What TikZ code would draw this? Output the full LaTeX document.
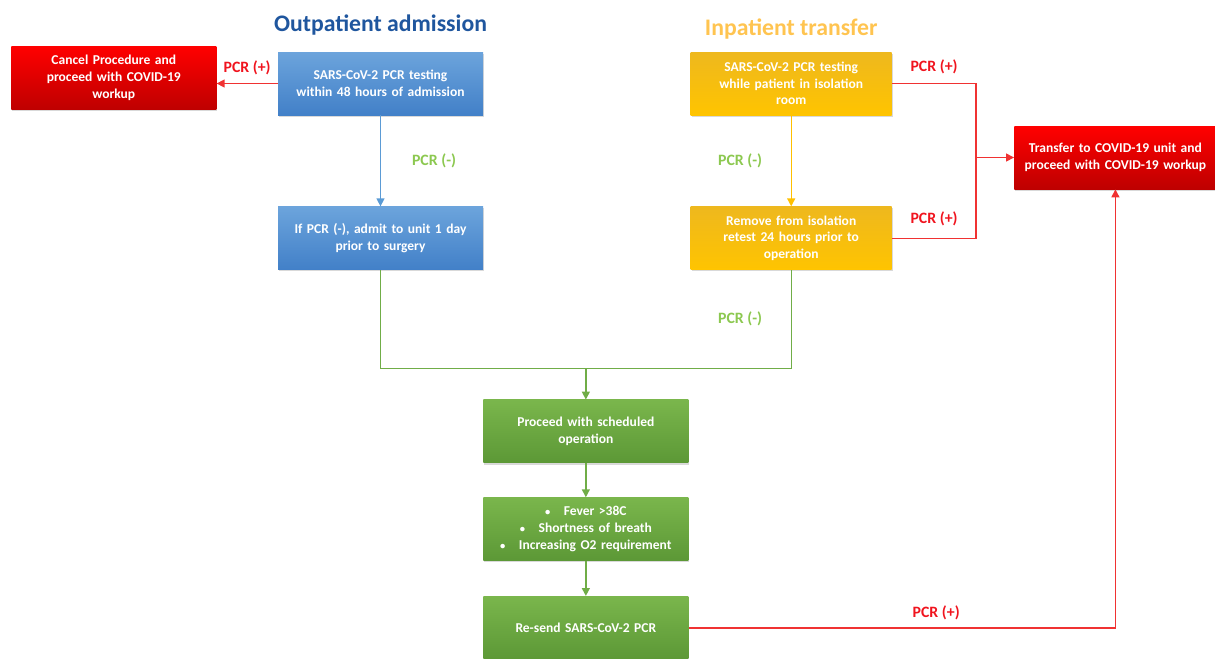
\documentclass[tikz,border=0pt]{standalone}
\usepackage{fontspec}
\setmainfont{Carlito}
\usetikzlibrary{arrows.meta, positioning, calc, shadows}
\definecolor{titleblue}{RGB}{31,86,158}
\definecolor{titleyellow}{RGB}{255,196,80}
\definecolor{lblred}{RGB}{240,20,30}
\definecolor{lblgreen}{RGB}{140,200,80}
\definecolor{lnblue}{RGB}{91,155,213}
\definecolor{lnyellow}{RGB}{255,192,0}
\definecolor{lngreen}{RGB}{112,173,71}
\definecolor{lnred}{RGB}{240,50,50}
\definecolor{bluetop}{RGB}{108,164,220}
\definecolor{bluebot}{RGB}{66,128,200}
\definecolor{yellowtop}{RGB}{238,184,30}
\definecolor{yellowbot}{RGB}{255,196,0}
\definecolor{greentop}{RGB}{122,182,76}
\definecolor{greenbot}{RGB}{92,152,54}
\definecolor{redtop}{RGB}{255,0,0}
\definecolor{redbot}{RGB}{190,0,0}
\tikzset{
  box/.style={rectangle, minimum width=4.1cm, minimum height=1.26cm,
    text width=3.8cm, align=center, text=white, inner sep=1pt,
    font=\fontsize{7.7}{9.5}\selectfont\bfseries,
    drop shadow={opacity=0.3, shadow xshift=0.6pt, shadow yshift=-1pt}},
  bluebox/.style={box, top color=bluetop, bottom color=bluebot},
  yellowbox/.style={box, minimum width=4.02cm, top color=yellowtop, bottom color=yellowbot},
  greenbox/.style={box, top color=greentop, bottom color=greenbot},
  redbox/.style={box, top color=redtop, bottom color=redbot},
  arrow/.style={-{Triangle[length=4.5pt, width=4.5pt]}, line width=0.8pt},
  line/.style={line width=0.8pt},
  lbl/.style={font=\fontsize{9}{10}\selectfont\bfseries},
  title/.style={font=\fontsize{13.5}{16}\selectfont\bfseries}
}
\newcommand{\bul}{{\fontsize{6}{6}\selectfont\textbullet}\ \ \ }
\begin{document}
\begin{tikzpicture}
  \useasboundingbox (0,0) rectangle (24.3,-13.16);

  % Outpatient column
  \node[bluebox] (outTest) at (7.61,-1.67)
    {SARS-CoV-2 PCR testing\\within 48 hours of admission};
  \node[bluebox, below=1.82cm of outTest] (outAdmit)
    {If PCR (-), admit to unit 1 day\\prior to surgery};
  \node[redbox, left=1.22cm of outTest, yshift=0.11cm] (cancel)
    {Cancel Procedure and\\proceed with COVID-19\\workup};
  \node[title, text=titleblue, above=0.2cm of outTest] (outTitle) {Outpatient admission};

  % Inpatient column
  \node[yellowbox, right=4.14cm of outTest] (inTest)
    {SARS-CoV-2 PCR testing\\while patient in isolation\\room};
  \node[yellowbox, below=1.82cm of inTest] (inRetest)
    {Remove from isolation\\retest 24 hours prior to\\operation};
  \node[title, text=titleyellow, above=0.12cm of inTest] (inTitle) {Inpatient transfer};

  % COVID-19 unit
  \node[redbox, minimum width=4.04cm, right=2.44cm of inTest, yshift=-1.48cm] (transfer)
    {Transfer to COVID-19 unit and\\proceed with COVID-19 workup};

  % Operation column
  \coordinate (mid) at ($(outAdmit.south)!0.5!(inRetest.south)$);
  \node[greenbox, below=2.59cm of mid] (proceed)
    {Proceed with scheduled\\operation};
  \node[greenbox, below=0.68cm of proceed] (symptoms)
    {\bul Fever >38C\\\bul Shortness of breath\\\bul Increasing O2 requirement};
  \node[greenbox, below=0.7cm of symptoms] (resend)
    {Re-send SARS-CoV-2 PCR};

  \coordinate[above=0.62cm of proceed.north] (merge);
  \coordinate[left=0.76cm of transfer.west] (rjoin);

  % Arrows
  \draw[arrow, lnred] (outTest.west) -- node[lbl, text=lblred, above=1pt] {PCR (+)}
    (outTest.west -| cancel.east);
  \draw[arrow, lnblue] (outTest) -- node[lbl, text=lblgreen, right=0.5cm] {PCR (-)} (outAdmit);
  \draw[arrow, lnyellow] (inTest) -- node[lbl, text=lblgreen, left=0.45cm] {PCR (-)} (inRetest);
  \draw[line, lnred] (inTest.east) -| node[lbl, text=lblred, above=2pt, pos=0.25] {PCR (+)} (rjoin)
    |- node[lbl, text=lblred, above=3pt, pos=0.75] {PCR (+)} (inRetest.east);
  \draw[arrow, lnred] (rjoin) -- (transfer);
  \draw[line, lngreen] (outAdmit.south) |- (merge) -| node[lbl, text=lblgreen, left=0.45cm, pos=0.75] {PCR (-)}
    (inRetest.south);
  \draw[arrow, lngreen] (merge) -- (proceed);
  \draw[arrow, lngreen] (proceed) -- (symptoms);
  \draw[arrow, lngreen] (symptoms) -- (resend);
  \draw[arrow, lnred] (resend.east) -| node[lbl, text=lblred, above=1pt, pos=0.29] {PCR (+)}
    (transfer.south);
\end{tikzpicture}
\end{document}
